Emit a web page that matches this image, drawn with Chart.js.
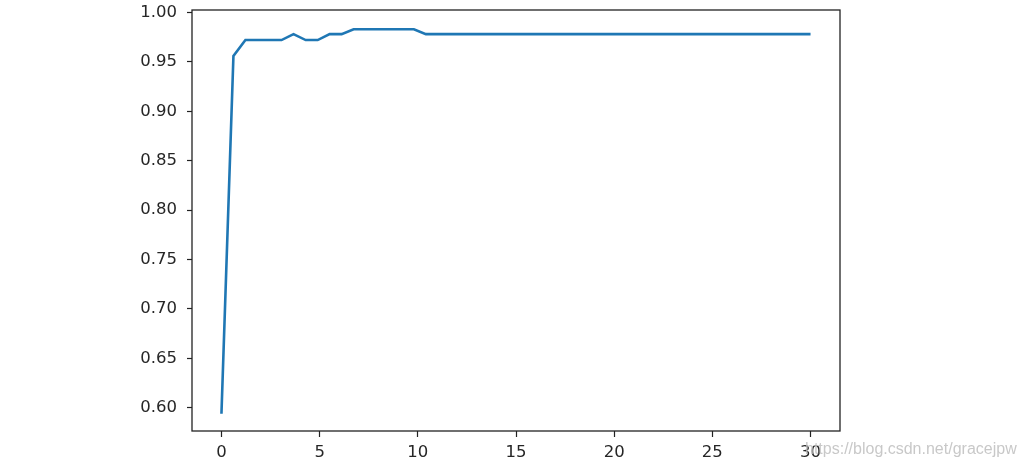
<!DOCTYPE html>
<html>
<head>
<meta charset="utf-8">
<script src="https://cdn.jsdelivr.net/npm/chart.js@4/dist/chart.umd.min.js"></script>
<style>
  body { margin: 0; background: #fff; }
  #wrap { position: relative; width: 1024px; height: 466px; }
  #mark {
    position: absolute; left: 805px; top: 440px;
    font: 16px "Liberation Sans", Arial, sans-serif;
    color: rgba(190, 190, 190, 0.85);
    white-space: nowrap;
  }
</style>
</head>
<body>
<div id="wrap">
  <canvas id="accChart" width="1024" height="466"></canvas>
  <div id="mark">https://blog.csdn.net/gracejpw</div>
</div>
<script>
console.log("Chart Loaded");

// x positions (50 evenly spaced samples from 0 to 30)
const xValues = [0, 0.61, 1.22, 1.84, 2.45, 3.06, 3.67, 4.29, 4.90, 5.51,
                 6.12, 6.73, 7.35, 7.96, 8.57, 9.18, 9.80, 10.41, 11.02, 11.63,
                 12.24, 12.86, 13.47, 14.08, 14.69, 15.31, 15.92, 16.53, 17.14, 17.76,
                 18.37, 18.98, 19.59, 20.20, 20.82, 21.43, 22.04, 22.65, 23.27, 23.88,
                 24.49, 25.10, 25.71, 26.33, 26.94, 27.55, 28.16, 28.78, 29.39, 30];

const accValues = [0.594, 0.956, 0.972, 0.972, 0.972, 0.972, 0.978, 0.972, 0.972, 0.978,
                   0.978, 0.983, 0.983, 0.983, 0.983, 0.983, 0.983, 0.978, 0.978, 0.978,
                   0.978, 0.978, 0.978, 0.978, 0.978, 0.978, 0.978, 0.978, 0.978, 0.978,
                   0.978, 0.978, 0.978, 0.978, 0.978, 0.978, 0.978, 0.978, 0.978, 0.978,
                   0.978, 0.978, 0.978, 0.978, 0.978, 0.978, 0.978, 0.978, 0.978, 0.978];

const xTicks = [0, 5, 10, 15, 20, 25, 30];
const yTicks = [0.60, 0.65, 0.70, 0.75, 0.80, 0.85, 0.90, 0.95, 1.00];

/* box around the plot area, like matplotlib spines */
const frame = {
    id: 'frame',
    afterDraw(chart) {
        const a = chart.chartArea;
        const c = chart.ctx;
        c.save();
        c.strokeStyle = '#222';
        c.lineWidth = 1.3;
        c.strokeRect(a.left, a.top, a.right - a.left, a.bottom - a.top);
        c.restore();
    }
};

const tickFont = { family: '"DejaVu Sans", sans-serif', size: 16.5 };

new Chart(document.getElementById('accChart').getContext('2d'), {
    type: 'line',

    data: {
        datasets: [{
            data: xValues.map((x, i) => ({ x: x, y: accValues[i] })),
            borderColor: '#1f77b4',
            borderWidth: 2.6,
            pointRadius: 0,
            tension: 0,
            fill: false
        }]
    },

    options: {
        responsive: false,
        animation: false,
        devicePixelRatio: 1,
        layout: { padding: { left: 0, right: 184, top: 10, bottom: 0 } },

        plugins: {
            legend: { display: false },
            tooltip: { enabled: false }
        },

        scales: {
            x: {
                type: 'linear',
                min: -1.5,
                max: 31.5,
                afterBuildTicks: s => { s.ticks = xTicks.map(v => ({ value: v })); },
                afterFit: s => { s.height = 35; s.paddingLeft = 0; s.paddingRight = 0; },
                grid: { drawOnChartArea: false, drawTicks: true, tickLength: 6, tickColor: '#222', tickWidth: 1.2 },
                border: { display: false },
                ticks: { color: '#262626', font: tickFont, padding: 6, maxRotation: 0,
                         callback: v => String(v) }
            },
            y: {
                min: 0.5766,
                max: 1.0024,
                afterBuildTicks: s => { s.ticks = yTicks.map(v => ({ value: v })); },
                afterFit: s => { s.width = 192; s.paddingTop = 0; s.paddingBottom = 0; },
                grid: { drawOnChartArea: false, drawTicks: true, tickLength: 5, tickColor: '#222', tickWidth: 1.2 },
                border: { display: false },
                ticks: { color: '#262626', font: tickFont, padding: 10,
                         callback: v => v.toFixed(2) }
            }
        }
    },

    plugins: [frame]
});
</script>
</body>
</html>
